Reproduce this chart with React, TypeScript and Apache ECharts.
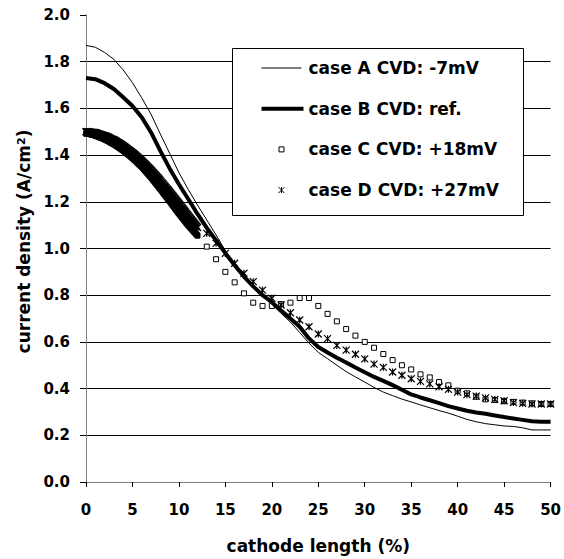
import React, { useEffect, useRef } from "react";
import * as echarts from "echarts";

const FONT = "DejaVu Sans";

// x positions (cathode length, %) for the two line cases
const lineX = [
  0, 1, 2, 3, 4, 5, 6, 7, 8, 9, 10, 11, 12, 13, 14, 15, 16, 17, 18, 19, 20,
  21, 22, 23, 24, 25, 26, 27, 28, 29, 30, 31, 32, 33, 34, 35, 36, 37, 38, 39,
  40, 41, 42, 43, 44, 45, 46, 47, 48, 49, 50,
];

const caseA = [
  1.87, 1.862, 1.84, 1.81, 1.765, 1.71, 1.645, 1.575, 1.49, 1.408, 1.325,
  1.253, 1.186, 1.122, 1.058, 0.99, 0.935, 0.885, 0.84, 0.8, 0.762, 0.722,
  0.685, 0.64, 0.595, 0.555, 0.528, 0.5, 0.473, 0.45, 0.428, 0.405, 0.385,
  0.37, 0.355, 0.343, 0.33, 0.318, 0.306, 0.295, 0.282, 0.268, 0.258, 0.25,
  0.245, 0.24, 0.238, 0.232, 0.223, 0.223, 0.223,
];

const caseB = [
  1.73, 1.725, 1.708, 1.683, 1.648, 1.61, 1.562, 1.497, 1.418, 1.343, 1.275,
  1.212, 1.148, 1.088, 1.035, 0.98, 0.928, 0.88, 0.838, 0.8, 0.77, 0.735, 0.7,
  0.665, 0.615, 0.578, 0.555, 0.532, 0.512, 0.49, 0.47, 0.45, 0.433, 0.415,
  0.395, 0.375, 0.362, 0.35, 0.338, 0.325, 0.315, 0.305, 0.298, 0.292, 0.285,
  0.278, 0.272, 0.266, 0.26, 0.258, 0.258,
];

// finely spaced points near the inlet (0 - 12 %)
const denseX = [
  0, 0.1, 0.2, 0.3, 0.4, 0.5, 0.6, 0.7, 0.8, 0.9,
  1, 1.1, 1.2, 1.3, 1.4, 1.5, 1.6, 1.7, 1.8, 1.9,
  2, 2.1, 2.2, 2.3, 2.4, 2.5, 2.6, 2.7, 2.8, 2.9,
  3, 3.1, 3.2, 3.3, 3.4, 3.5, 3.6, 3.7, 3.8, 3.9,
  4, 4.1, 4.2, 4.3, 4.4, 4.5, 4.6, 4.7, 4.8, 4.9,
  5, 5.1, 5.2, 5.3, 5.4, 5.5, 5.6, 5.7, 5.8, 5.9,
  6, 6.1, 6.2, 6.3, 6.4, 6.5, 6.6, 6.7, 6.8, 6.9,
  7, 7.1, 7.2, 7.3, 7.4, 7.5, 7.6, 7.7, 7.8, 7.9,
  8, 8.1, 8.2, 8.3, 8.4, 8.5, 8.6, 8.7, 8.8, 8.9,
  9, 9.1, 9.2, 9.3, 9.4, 9.5, 9.6, 9.7, 9.8, 9.9,
  10, 10.1, 10.2, 10.3, 10.4, 10.5, 10.6, 10.7, 10.8, 10.9,
  11, 11.1, 11.2, 11.3, 11.4, 11.5, 11.6, 11.7, 11.8, 11.9,
  12,
];

const caseCDense = [
  1.492, 1.492, 1.491, 1.491, 1.49, 1.489, 1.488, 1.487, 1.486, 1.485,
  1.484, 1.482, 1.481, 1.479, 1.478, 1.476, 1.474, 1.473, 1.471, 1.47,
  1.468, 1.466, 1.464, 1.462, 1.46, 1.458, 1.455, 1.453, 1.451, 1.449,
  1.447, 1.444, 1.442, 1.439, 1.436, 1.434, 1.431, 1.428, 1.425, 1.423,
  1.42, 1.417, 1.414, 1.41, 1.407, 1.404, 1.401, 1.398, 1.394, 1.391,
  1.388, 1.384, 1.38, 1.377, 1.373, 1.369, 1.365, 1.361, 1.358, 1.354,
  1.35, 1.346, 1.341, 1.337, 1.332, 1.328, 1.323, 1.319, 1.314, 1.31,
  1.305, 1.3, 1.295, 1.29, 1.285, 1.28, 1.275, 1.27, 1.265, 1.26,
  1.255, 1.25, 1.245, 1.239, 1.234, 1.229, 1.224, 1.219, 1.213, 1.208,
  1.203, 1.198, 1.192, 1.187, 1.182, 1.177, 1.171, 1.166, 1.161, 1.155,
  1.15, 1.145, 1.14, 1.135, 1.13, 1.125, 1.12, 1.115, 1.11, 1.105,
  1.1, 1.096, 1.091, 1.087, 1.082, 1.078, 1.073, 1.069, 1.064, 1.06,
  1.055,
];

const caseDDense = [
  1.5, 1.5, 1.5, 1.499, 1.499, 1.498, 1.498, 1.497, 1.496, 1.496,
  1.495, 1.494, 1.493, 1.491, 1.49, 1.489, 1.488, 1.486, 1.485, 1.484,
  1.483, 1.481, 1.479, 1.478, 1.476, 1.474, 1.472, 1.47, 1.468, 1.467,
  1.465, 1.463, 1.46, 1.458, 1.455, 1.453, 1.45, 1.448, 1.445, 1.443,
  1.44, 1.437, 1.434, 1.431, 1.428, 1.425, 1.422, 1.419, 1.416, 1.413,
  1.41, 1.407, 1.403, 1.4, 1.396, 1.393, 1.389, 1.386, 1.382, 1.379,
  1.375, 1.371, 1.367, 1.363, 1.359, 1.355, 1.351, 1.347, 1.343, 1.339,
  1.335, 1.331, 1.326, 1.322, 1.317, 1.313, 1.308, 1.304, 1.299, 1.295,
  1.29, 1.285, 1.28, 1.276, 1.271, 1.266, 1.261, 1.256, 1.252, 1.247,
  1.242, 1.237, 1.232, 1.227, 1.222, 1.217, 1.212, 1.207, 1.202, 1.197,
  1.192, 1.187, 1.182, 1.176, 1.171, 1.166, 1.161, 1.156, 1.15, 1.145,
  1.14, 1.135, 1.13, 1.125, 1.12, 1.115, 1.11, 1.105, 1.1, 1.095,
  1.09,
];

// coarser points further down the cathode (13 - 50 %)
const sparseX = [
  13, 14, 15, 16, 17, 18, 19, 20, 21, 22, 23, 24, 25, 26, 27, 28, 29, 30, 31,
  32, 33, 34, 35, 36, 37, 38, 39, 40, 41, 42, 43, 44, 45, 46, 47, 48, 49, 50,
];

const caseCSparse = [
  1.008, 0.954, 0.9, 0.855, 0.808, 0.768, 0.754, 0.754, 0.762, 0.768, 0.788,
  0.788, 0.754, 0.72, 0.688, 0.655, 0.627, 0.6, 0.575, 0.548, 0.522, 0.5,
  0.482, 0.461, 0.448, 0.428, 0.414, 0.391, 0.38, 0.365, 0.354, 0.351, 0.346,
  0.343, 0.34, 0.337, 0.334, 0.334,
];

const caseDSparse = [
  1.065, 1.022, 0.979, 0.937, 0.894, 0.858, 0.822, 0.787, 0.758, 0.725, 0.694,
  0.665, 0.634, 0.614, 0.585, 0.565, 0.547, 0.527, 0.505, 0.491, 0.471, 0.457,
  0.442, 0.431, 0.42, 0.408, 0.397, 0.385, 0.374, 0.368, 0.36, 0.354, 0.348,
  0.34, 0.337, 0.334, 0.334, 0.334,
];

const seriesNames = [
  "case A CVD: -7mV",
  "case B CVD: ref.",
  "case C CVD: +18mV",
  "case D CVD: +27mV",
];

const STAR = "path://M0 0 L10 10 M10 0 L0 10 M5 0 L5 10";

function pairs(xs: number[], ys: number[]) {
  return xs.map((x, i) => [x, ys[i]]);
}

export default function App() {
  const ref = useRef<HTMLDivElement>(null);

  useEffect(() => {
    if (!ref.current) return;
    const chart = echarts.init(ref.current, undefined, { renderer: "svg" });

    const labelStyle = {
      fontFamily: FONT,
      fontWeight: "bold" as const,
      fontSize: 15,
      color: "#000",
    };

    // overlapping markers in the fine-mesh zone merge into a solid band
    const cDense = pairs(denseX, caseCDense).map((v) => ({
      value: v,
      itemStyle: { color: "#000" },
    }));
    const dDense = pairs(denseX, caseDDense).map((v) => ({
      value: v,
      itemStyle: { borderWidth: 1.6 },
    }));

    chart.setOption({
      animation: false,
      backgroundColor: "#fff",
      grid: { left: 86, right: 12, top: 15, bottom: 77, containLabel: false },
      xAxis: [
        {
          type: "value",
          min: 0,
          max: 50,
          interval: 5,
          name: "cathode length (%)",
          nameLocation: "middle",
          nameGap: 55,
          nameTextStyle: { ...labelStyle, fontSize: 17 },
          axisLine: { onZero: false, lineStyle: { color: "#000", width: 1 } },
          axisTick: { show: true, inside: false, length: 5, lineStyle: { color: "#000" } },
          axisLabel: { ...labelStyle, margin: 20 },
          splitLine: { show: false },
        },
        {
          type: "value",
          position: "top",
          min: 0,
          max: 50,
          axisLine: { show: true, lineStyle: { color: "#808080", width: 1 } },
          axisTick: { show: false },
          axisLabel: { show: false },
          splitLine: { show: false },
        },
      ],
      yAxis: [
        {
          type: "value",
          min: 0,
          max: 2,
          interval: 0.2,
          name: "{t|current density (A/cm}{s|2}{t|)}",
          nameLocation: "middle",
          nameGap: 50,
          nameTextStyle: {
            padding: [0, 0, 0, 14],
            rich: {
              t: { fontFamily: FONT, fontWeight: "bold", fontSize: 17, color: "#000" },
              s: {
                fontFamily: FONT,
                fontWeight: "bold",
                fontSize: 11,
                color: "#000",
                verticalAlign: "top",
              },
            },
          },
          axisLine: { show: true, lineStyle: { color: "#000", width: 1 } },
          axisTick: { show: true, inside: false, length: 6, lineStyle: { color: "#000" } },
          axisLabel: {
            ...labelStyle,
            margin: 16,
            formatter: (v: number) => v.toFixed(1),
          },
          splitLine: {
            show: true,
            showMaxLine: false,
            lineStyle: { color: "#000", width: 1 },
          },
        },
        {
          type: "value",
          position: "right",
          min: 0,
          max: 2,
          axisLine: { show: true, lineStyle: { color: "#808080", width: 1 } },
          axisTick: { show: false },
          axisLabel: { show: false },
          splitLine: { show: false },
        },
      ],
      graphic: [
        {
          type: "rect",
          z: 3,
          shape: { x: 232.5, y: 48.5, width: 291, height: 167 },
          style: { fill: "#fff", stroke: "#000", lineWidth: 1 },
          silent: true,
        },
      ],
      legend: {
        orient: "vertical",
        left: 261,
        top: 58,
        padding: 0,
        itemWidth: 42,
        itemHeight: 14,
        itemGap: 20.7,
        selectedMode: false,
        z: 5,
        textStyle: {
          fontFamily: FONT,
          fontWeight: "bold",
          fontSize: 17,
          color: "#000",
          lineHeight: 20,
        },
        data: [
          {
            name: seriesNames[0],
            icon: "path://M0 0 M42 14 M0 6.5 L40 6.5 L40 7.5 L0 7.5 Z",
            itemStyle: { color: "#000", borderWidth: 0 },
          },
          {
            name: seriesNames[1],
            icon: "path://M0 0 M42 14 M0 5 L42 5 L42 9 L0 9 Z",
            itemStyle: { color: "#000", borderWidth: 0 },
          },
          {
            name: seriesNames[2],
            icon: "path://M0 0 M42 14 M17.5 4.5 L22.5 4.5 L22.5 9.5 L17.5 9.5 Z",
            itemStyle: { color: "#fff", borderColor: "#000", borderWidth: 1 },
          },
          {
            name: seriesNames[3],
            icon: "path://M0 0 M42 14 M17 4 L23 10 M23 4 L17 10 M20 4 L20 10",
            itemStyle: { color: "rgba(0,0,0,0)", borderColor: "#000", borderWidth: 1 },
          },
        ],
      },
      series: [
        {
          name: seriesNames[0],
          type: "line",
          data: pairs(lineX, caseA),
          symbol: "none",
          lineStyle: { color: "#000", width: 1 },
          itemStyle: { color: "#000" },
          z: 3,
        },
        {
          name: seriesNames[1],
          type: "line",
          data: pairs(lineX, caseB),
          symbol: "none",
          lineStyle: { color: "#000", width: 4 },
          itemStyle: { color: "#000" },
          z: 3,
        },
        {
          name: seriesNames[2],
          type: "scatter",
          data: [...cDense, ...pairs(sparseX, caseCSparse)],
          symbol: "rect",
          symbolSize: 5,
          itemStyle: { color: "#fff", borderColor: "#000", borderWidth: 1, opacity: 1 },
          z: 2,
        },
        {
          name: seriesNames[3],
          type: "scatter",
          data: [...dDense, ...pairs(sparseX, caseDSparse)],
          symbol: STAR,
          symbolSize: 7,
          itemStyle: {
            color: "rgba(0,0,0,0)",
            borderColor: "#000",
            borderWidth: 1.2,
            opacity: 1,
          },
          z: 2,
        },
      ],
    });

    return () => chart.dispose();
  }, []);

  return (
    <div
      ref={ref}
      style={{ position: "absolute", left: 0, top: 0, width: 564, height: 559 }}
    />
  );
}
